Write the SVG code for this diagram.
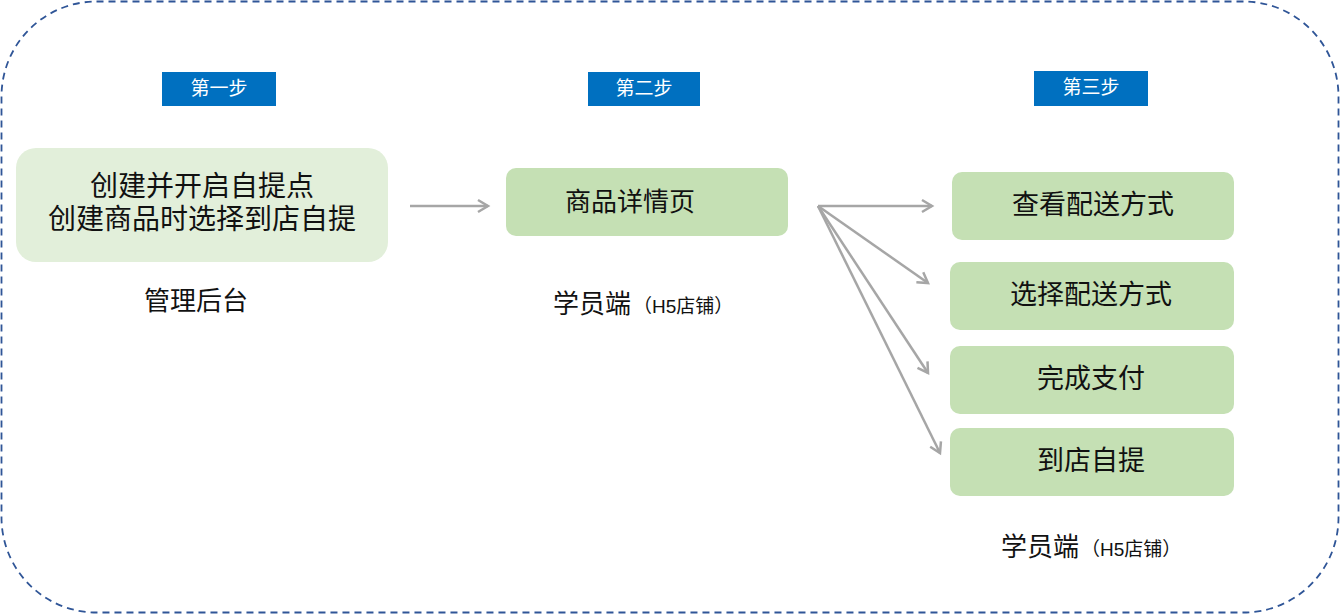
<svg xmlns="http://www.w3.org/2000/svg" width="1342" height="616" viewBox="0 0 1342 616">
<style>
text{font-family:"Liberation Sans","Noto Sans CJK SC",sans-serif;fill:#111;}
.step{fill:#0070c0;}
.stept{fill:#fff;font-size:19px;text-anchor:middle;}
.n1{fill:#e2efda;}
.n{fill:#c5e0b4;}
.nt{font-size:27px;text-anchor:middle;}
.lbl{font-size:26px;}
.sub{font-size:19px;}
.conn{stroke:#a6a6a6;stroke-width:2.5;fill:none;}
</style>
<defs>
<marker id="arr" markerUnits="userSpaceOnUse" markerWidth="16" markerHeight="16" refX="13" refY="8" orient="auto">
<path d="M3,2 L13,8 L3,14" fill="none" stroke="#a6a6a6" stroke-width="2.5"/>
</marker>
</defs>
<rect x="1.5" y="1.5" width="1337" height="611" rx="95" ry="95" fill="none" stroke="#2f5597" stroke-width="1.8" stroke-dasharray="7,5"/>
<g id="step1"><rect class="step" x="162" y="72" width="114" height="34"/><text class="stept" x="219" y="95">第一步</text></g>
<g id="step2"><rect class="step" x="588" y="72" width="112" height="34"/><text class="stept" x="644" y="95">第二步</text></g>
<g id="step3"><rect class="step" x="1034" y="71" width="114" height="35"/><text class="stept" x="1091" y="94">第三步</text></g>
<g id="node-admin"><rect class="n1" x="16" y="148" width="372" height="114" rx="20"/><text class="nt" x="202" y="196" style="font-size:28px">创建并开启自提点</text><text class="nt" x="202" y="229" style="font-size:28px">创建商品时选择到店自提</text></g>
<g id="label-admin"><text class="lbl" x="196" y="310" text-anchor="middle">管理后台</text></g>
<g id="node-detail"><rect class="n" x="506" y="168" width="282" height="68" rx="10"/><text class="nt" x="630" y="211" style="font-size:26px">商品详情页</text></g>
<g id="label-student1"><text x="553" y="313"><tspan class="lbl">学员端</tspan><tspan class="sub" dx="2">（H5店铺）</tspan></text></g>
<g id="node-view"><rect class="n" x="952" y="172" width="282" height="68" rx="10"/><text class="nt" x="1093" y="214">查看配送方式</text></g>
<g id="node-select"><rect class="n" x="950" y="262" width="284" height="68" rx="10"/><text class="nt" x="1091" y="304">选择配送方式</text></g>
<g id="node-pay"><rect class="n" x="950" y="346" width="284" height="68" rx="10"/><text class="nt" x="1091" y="388">完成支付</text></g>
<g id="node-pickup"><rect class="n" x="950" y="428" width="284" height="68" rx="10"/><text class="nt" x="1091" y="470">到店自提</text></g>
<g id="label-student2"><text x="1001" y="556"><tspan class="lbl">学员端</tspan><tspan class="sub" dx="2">（H5店铺）</tspan></text></g>
<g id="connectors">
<line class="conn" x1="410" y1="206" x2="488" y2="206" marker-end="url(#arr)"/>
<line class="conn" x1="818" y1="206" x2="932" y2="206" marker-end="url(#arr)"/>
<line class="conn" x1="818" y1="206" x2="928" y2="283" marker-end="url(#arr)"/>
<line class="conn" x1="818" y1="206" x2="928" y2="373" marker-end="url(#arr)"/>
<line class="conn" x1="818" y1="206" x2="940" y2="453" marker-end="url(#arr)"/>
</g>
</svg>
